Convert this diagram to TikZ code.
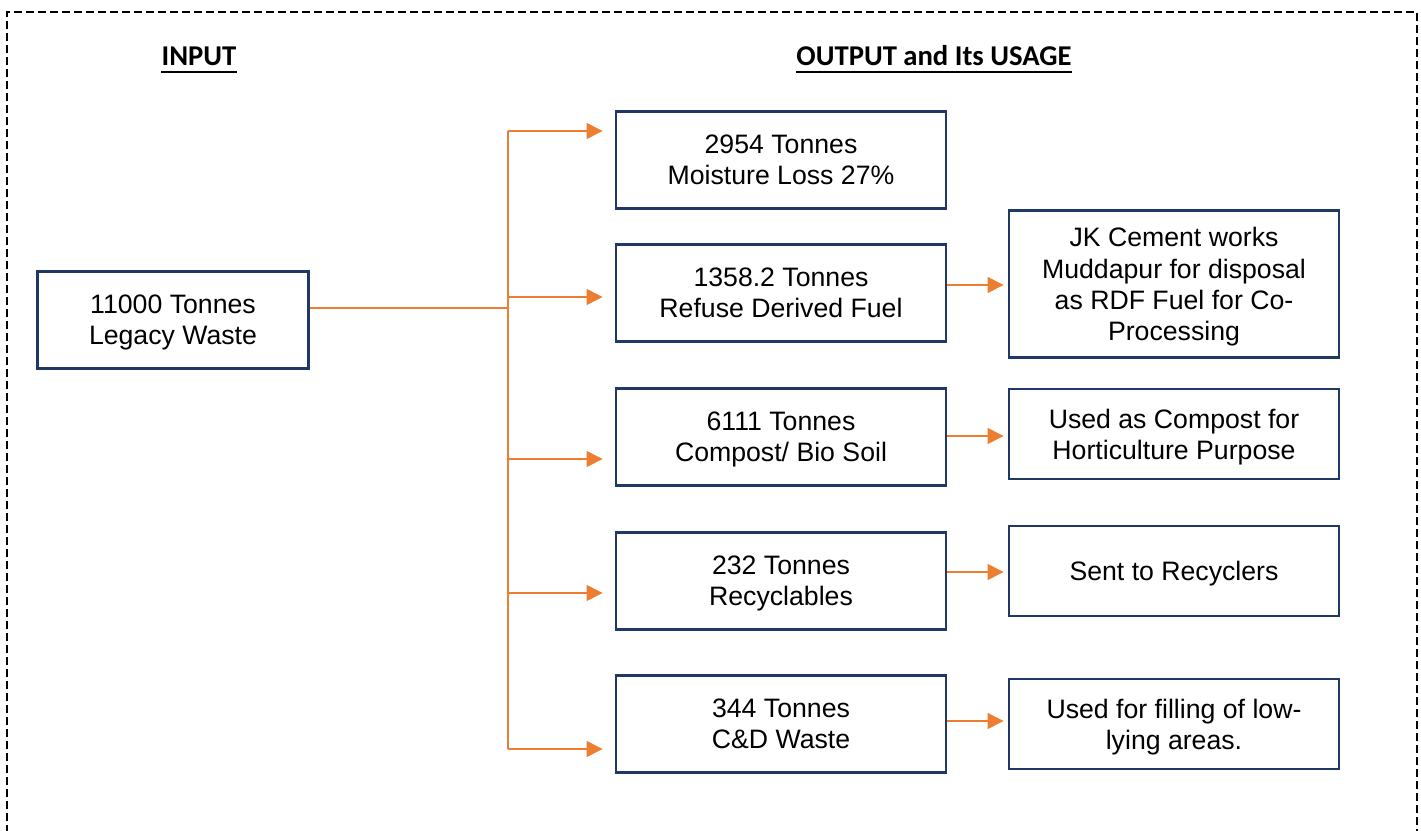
\documentclass[tikz,border=0pt]{standalone}
\usepackage{fontspec}
\setmainfont{Liberation Sans}
\newfontfamily\titlefont{Carlito}
\usetikzlibrary{arrows.meta}
\definecolor{navy}{HTML}{1F3864}
\definecolor{orng}{HTML}{ED7D31}
\begin{document}
\begin{tikzpicture}[x=0.75pt,y=-0.75pt,
  boxA/.style={draw=navy,line width=2.2pt,minimum width=271*0.75pt,minimum height=97*0.75pt,align=center,inner sep=0pt,text depth=0pt,font=\fontsize{20}{23.4}\selectfont},
  boxB/.style={boxA,minimum width=330*0.75pt},
  conn/.style={draw=orng,line width=1.1pt},
  arr/.style={conn,-{Triangle[length=12pt,width=12pt]},shorten >=9pt},
  ttl/.style={font=\titlefont\bfseries\fontsize{21.5}{24}\selectfont,inner sep=0pt},
  uline/.style={line width=1.6pt}]
\useasboundingbox (0,0) rectangle (1421,831);
\clip (0,0) rectangle (1421,831);
\draw[line width=1.1pt,dash pattern=on 6pt off 3pt] (7,845) -- (7,12) -- (1417,12) -- (1417,845);
\node[ttl,anchor=base] (tin) at (199,66) {INPUT};
\node[ttl,anchor=base] (tout) at (934,66) {OUTPUT and Its USAGE};
\draw[uline] ([yshift=-4.5pt]tin.base west) -- ([yshift=-4.5pt]tin.base east);
\draw[uline] ([yshift=-4.5pt]tout.base west) -- ([yshift=-4.5pt]tout.base east);
% boxes
\node[boxA] (in) at (173,320) {11000 Tonnes\\Legacy Waste};
\node[boxB] (b1) at (781,160) {2954 Tonnes\\Moisture Loss 27\%};
\node[boxB] (b2) at (781,293) {1358.2 Tonnes\\Refuse Derived Fuel};
\node[boxB] (b3) at (781,437) {6111 Tonnes\\Compost/ Bio Soil};
\node[boxB] (b4) at (781,581) {232 Tonnes\\Recyclables};
\node[boxB] (b5) at (781,724) {344 Tonnes\\C\&D Waste};
\node[boxB,minimum height=147*0.75pt] (u1) at (1174,284) {JK Cement works\\Muddapur for disposal\\as RDF Fuel for Co-\\Processing};
\node[boxB,minimum height=90*0.75pt] (u2) at (1174,434) {Used as Compost for\\Horticulture Purpose};
\node[boxB,minimum height=90*0.75pt] (u3) at (1174,571) {Sent to Recyclers};
\node[boxB,minimum height=90*0.75pt] (u4) at (1174,724) {Used for filling of low-\\lying areas.};
% connectors
\coordinate (t) at (508,308);
\coordinate (j1) at (508,131);
\coordinate (j2) at (508,297);
\coordinate (j3) at (508,459);
\coordinate (j4) at (508,593);
\coordinate (j5) at (508,749);
\draw[conn] (t -| in.east) -- (t);
\draw[conn] (j1) -- (j5);
\draw[arr] (j1) -- (j1 -| b1.west);
\draw[arr] (j2) -- (j2 -| b2.west);
\draw[arr] (j3) -- (j3 -| b3.west);
\draw[arr] (j4) -- (j4 -| b4.west);
\draw[arr] (j5) -- (j5 -| b5.west);
\coordinate (k2) at (947,285);
\coordinate (k3) at (947,436);
\coordinate (k4) at (947,572);
\coordinate (k5) at (947,721);
\draw[arr,shorten >=3pt] (k2 -| b2.east) -- (k2 -| u1.west);
\draw[arr,shorten >=3pt] (k3 -| b3.east) -- (k3 -| u2.west);
\draw[arr,shorten >=3pt] (k4 -| b4.east) -- (k4 -| u3.west);
\draw[arr,shorten >=3pt] (k5 -| b5.east) -- (k5 -| u4.west);
\end{tikzpicture}
\end{document}
